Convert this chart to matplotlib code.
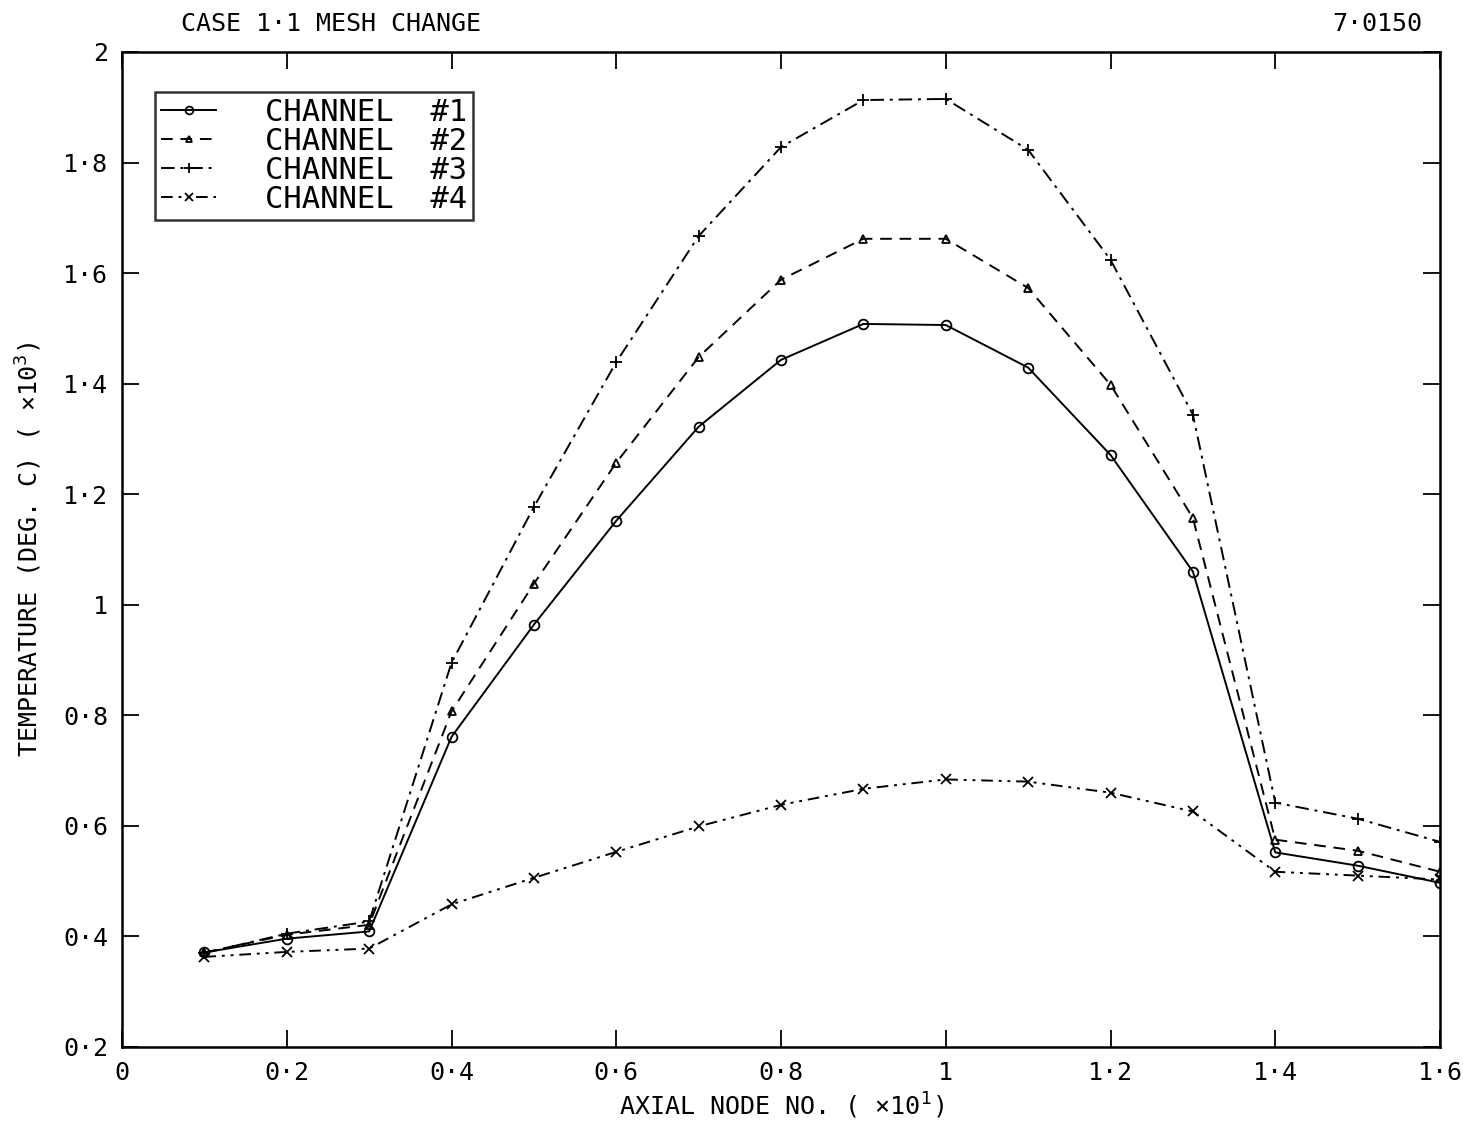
import numpy as np
import matplotlib
matplotlib.use('Agg')
import matplotlib.pyplot as plt
from matplotlib.ticker import FuncFormatter, MultipleLocator

# axial node no. (x10^1)
nodes = [0.1, 0.2, 0.3, 0.4, 0.5, 0.6, 0.7, 0.8, 0.9, 1.0, 1.1, 1.2, 1.3, 1.4, 1.5, 1.6]
# temperature (deg C, x10^3)
chan1 = [0.371, 0.396, 0.409, 0.761, 0.964, 1.152, 1.322, 1.443, 1.508, 1.506,
         1.429, 1.271, 1.060, 0.552, 0.528, 0.497]
chan2 = [0.371, 0.403, 0.421, 0.807, 1.038, 1.257, 1.448, 1.588, 1.662, 1.662,
         1.573, 1.398, 1.157, 0.575, 0.555, 0.517]
chan3 = [0.370, 0.405, 0.427, 0.895, 1.177, 1.439, 1.667, 1.828, 1.913, 1.915,
         1.823, 1.624, 1.344, 0.642, 0.613, 0.571]
chan4 = [0.363, 0.372, 0.378, 0.458, 0.506, 0.553, 0.599, 0.638, 0.667, 0.684,
         0.680, 0.660, 0.626, 0.517, 0.510, 0.503]
labels = ["CHANNEL  #1", "CHANNEL  #2", "CHANNEL  #3", "CHANNEL  #4"]

plt.rcParams['font.family'] = ['DejaVu Sans Mono']

fig = plt.figure(figsize=(14.63, 11.27), dpi=100)
ax = fig.add_axes([0.0834, 0.071, 0.9009, 0.8829])

lw = 1.4
ax.plot(nodes, chan1, color='black', lw=lw, ls='-', marker='o', ms=7,
        mfc='none', mew=1.3, label=labels[0])
ax.plot(nodes, chan2, color='black', lw=lw, ls=(0, (6, 4)), marker='^', ms=6,
        mfc='none', mew=1.3, label=labels[1])
ax.plot(nodes, chan3, color='black', lw=lw, ls=(0, (7, 3, 1.5, 3)), marker='+',
        ms=9, mew=1.3, label=labels[2])
ax.plot(nodes, chan4, color='black', lw=lw, ls=(0, (6, 3, 1.5, 3, 1.5, 3)), marker='x',
        ms=7, mew=1.3, label=labels[3])

ax.set_xlim(0, 1.6)
ax.set_ylim(0.2, 2.0)
ax.xaxis.set_major_locator(MultipleLocator(0.2))
ax.yaxis.set_major_locator(MultipleLocator(0.2))

def fmt(v, pos):
    s = '%.1f' % v
    if s.endswith('.0'):
        s = s[:-2]
    return s.replace('.', '·')

ax.xaxis.set_major_formatter(FuncFormatter(fmt))
ax.yaxis.set_major_formatter(FuncFormatter(fmt))
ax.tick_params(direction='in', length=12, width=1.3, top=True, right=True,
               labelsize=18, pad=10)
for sp in ax.spines.values():
    sp.set_linewidth(1.8)

ax.set_xlabel("AXIAL NODE NO. ( ×10$^1$)", fontsize=18, labelpad=4)
ax.set_ylabel("TEMPERATURE (DEG. C) ( ×10$^3$)", fontsize=18, labelpad=14)

fig.text(0.124, 0.968, "CASE 1·1 MESH CHANGE", fontsize=18, ha='left', va='bottom')
fig.text(0.972, 0.968, "7·0150", fontsize=18, ha='right', va='bottom')

leg = ax.legend(loc='upper left', bbox_to_anchor=(0.025, 0.96), borderaxespad=0,
                fontsize=22, frameon=True, fancybox=False, edgecolor='black',
                handlelength=1.8, labelspacing=0.0, borderpad=0.2,
                handletextpad=1.6, markerscale=0.8)
leg.get_frame().set_linewidth(1.8)

fig.savefig("out.png", dpi=100, facecolor='white')
